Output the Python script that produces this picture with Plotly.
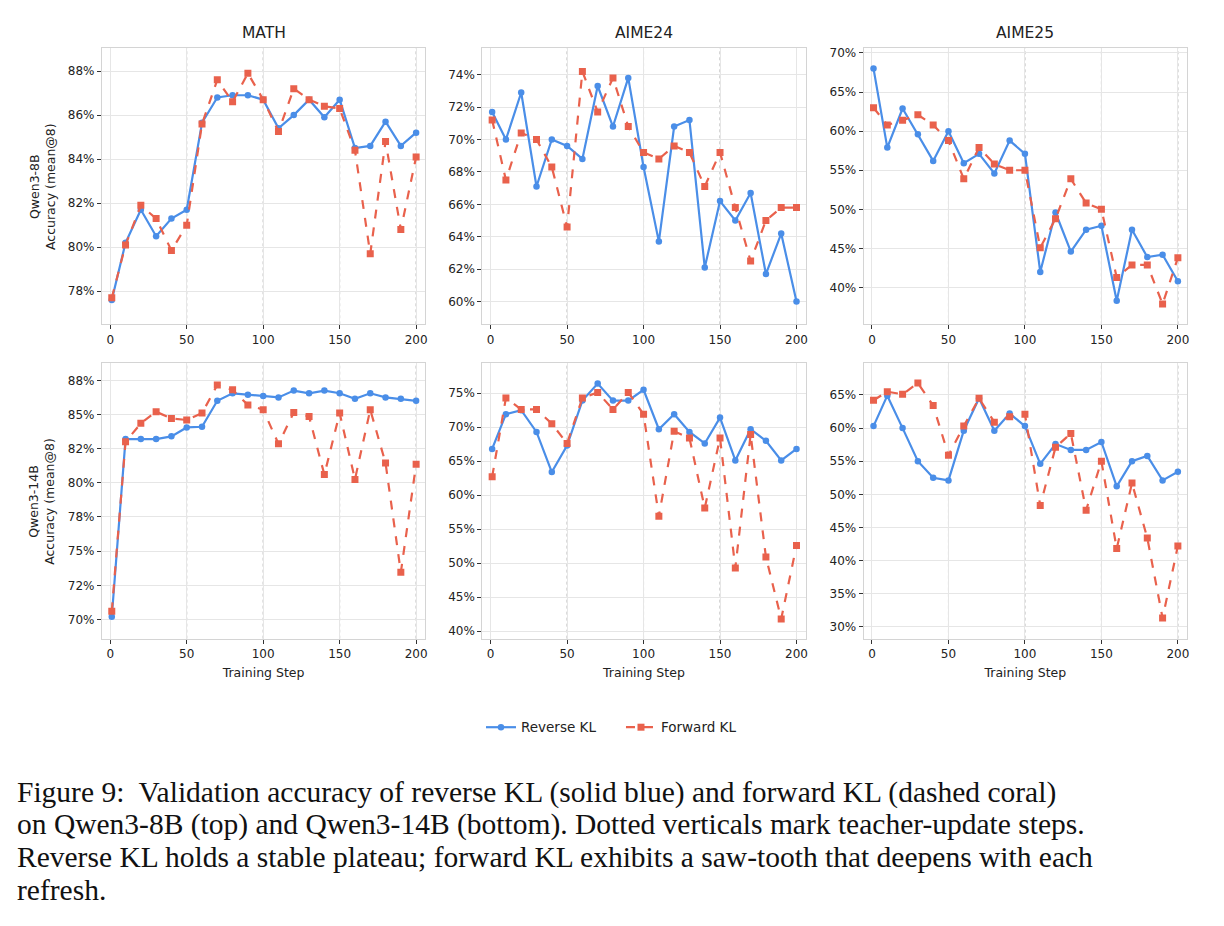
import plotly.graph_objects as go

steps = [1, 10, 20, 30, 40, 50, 60, 70, 80, 90, 100, 110, 120, 130, 140, 150, 160, 170, 180, 190, 200]
teacher_updates = [50, 100, 150, 200]

# Qwen3-8B (top row)
math8_rev = [77.6, 80.2, 81.7, 80.5, 81.3, 81.7, 85.65, 86.8, 86.9, 86.9, 86.7, 85.4, 86.0, 86.7, 85.9, 86.7, 84.5, 84.6, 85.7, 84.6, 85.2]
math8_fwd = [77.7, 80.1, 81.9, 81.3, 79.85, 81.0, 85.6, 87.6, 86.6, 87.9, 86.7, 85.25, 87.2, 86.7, 86.4, 86.3, 84.4, 79.7, 84.8, 80.8, 84.1]
aime24_8_rev = [71.7, 70.0, 72.9, 67.1, 70.0, 69.6, 68.8, 73.3, 70.8, 73.8, 68.3, 63.7, 70.8, 71.2, 62.1, 66.2, 65.0, 66.7, 61.7, 64.2, 60.0]
aime24_8_fwd = [71.2, 67.5, 70.4, 70.0, 68.3, 64.6, 74.2, 71.7, 73.8, 70.8, 69.2, 68.8, 69.6, 69.2, 67.1, 69.2, 65.8, 62.5, 65.0, 65.8, 65.8]
aime25_8_rev = [68.0, 57.9, 62.9, 59.6, 56.2, 60.0, 55.9, 57.1, 54.6, 58.8, 57.1, 42.0, 49.6, 44.6, 47.4, 47.9, 38.3, 47.4, 43.9, 44.2, 40.8]
aime25_8_fwd = [63.0, 60.8, 61.4, 62.1, 60.8, 58.8, 53.9, 57.9, 55.8, 55.0, 55.0, 45.1, 48.8, 53.9, 50.8, 50.0, 41.3, 42.9, 42.9, 37.9, 43.8]

# Qwen3-14B (bottom row)
math14_rev = [70.2, 83.2, 83.2, 83.2, 83.4, 84.05, 84.1, 86.0, 86.55, 86.45, 86.35, 86.25, 86.75, 86.55, 86.75, 86.55, 86.15, 86.55, 86.25, 86.15, 86.0]
math14_fwd = [70.6, 83.0, 84.35, 85.2, 84.7, 84.6, 85.1, 87.15, 86.8, 85.7, 85.35, 82.85, 85.15, 84.85, 80.6, 85.1, 80.25, 85.35, 81.45, 73.45, 81.35]
aime24_14_rev = [66.8, 71.9, 72.5, 69.3, 63.4, 67.3, 73.9, 76.4, 73.9, 73.9, 75.5, 69.7, 71.9, 69.3, 67.6, 71.4, 65.1, 69.7, 68.0, 65.1, 66.8]
aime24_14_fwd = [62.7, 74.3, 72.6, 72.6, 70.5, 67.6, 74.3, 75.1, 72.6, 75.1, 71.9, 56.9, 69.4, 68.4, 58.1, 68.4, 49.3, 68.9, 50.9, 41.8, 52.6]
aime25_14_rev = [60.3, 64.9, 60.0, 55.0, 52.5, 52.1, 59.6, 64.5, 59.6, 62.2, 60.3, 54.6, 57.6, 56.7, 56.7, 57.9, 51.2, 55.0, 55.8, 52.1, 53.4]
aime25_14_fwd = [64.2, 65.5, 65.1, 66.8, 63.4, 55.9, 60.3, 64.5, 60.9, 61.7, 62.1, 48.3, 57.1, 59.2, 47.6, 55.0, 41.8, 51.7, 43.4, 31.3, 42.2]

benchmarks = ["MATH", "AIME24", "AIME25"]
models = ["Qwen3-8B", "Qwen3-14B"]
series_names = ["Reverse KL", "Forward KL"]
x_ticks = [0, 50, 100, 150, 200]

panels = [
    [(math8_rev, math8_fwd), (aime24_8_rev, aime24_8_fwd), (aime25_8_rev, aime25_8_fwd)],
    [(math14_rev, math14_fwd), (aime24_14_rev, aime24_14_fwd), (aime25_14_rev, aime25_14_fwd)],
]
y_ticks = [
    [[78, 80, 82, 84, 86, 88], [60, 62, 64, 66, 68, 70, 72, 74], [40, 45, 50, 55, 60, 65, 70]],
    [[70, 72.5, 75, 77.5, 80, 82.5, 85, 87.5], [40, 45, 50, 55, 60, 65, 70, 75], [30, 35, 40, 45, 50, 55, 60, 65]],
]
y_ticklabels_14_math = ["70%", "72%", "75%", "78%", "80%", "82%", "85%", "88%"]
y_ranges = [
    [[76.5, 89.05], [58.6, 75.65], [35.3, 70.65]],
    [[68.6, 88.75], [38.9, 79.4], [28.2, 69.8]],
]

W, H = 1224, 926
col_px = [(102, 426), (483, 807), (865, 1189)]
row_px = [(46, 323), (362, 638)]

BLUE = "#4a8ee8"
RED = "#e9614c"
FONT = "DejaVu Sans"

fig = go.Figure()
layout = dict(
    width=W, height=H,
    margin=dict(l=0, r=0, t=0, b=0),
    paper_bgcolor="white", plot_bgcolor="white",
    font=dict(family=FONT, color="#222222", size=12),
    showlegend=True,
)
annotations = []
shapes = []

for r in range(2):
    for c in range(3):
        idx = r * 3 + c + 1
        xa = "x" if idx == 1 else f"x{idx}"
        ya = "y" if idx == 1 else f"y{idx}"
        rev, fwd = panels[r][c]
        fig.add_trace(go.Scatter(
            x=steps, y=rev, mode="lines+markers", name=series_names[0],
            line=dict(color=BLUE, width=2.2), marker=dict(symbol="circle", size=6.5, color=BLUE),
            xaxis=xa, yaxis=ya, showlegend=(idx == 1), legendgroup="rev",
        ))
        fig.add_trace(go.Scatter(
            x=steps, y=fwd, mode="lines+markers", name=series_names[1],
            line=dict(color=RED, width=2.2, dash="dash"), marker=dict(symbol="square", size=7, color=RED),
            xaxis=xa, yaxis=ya, showlegend=(idx == 1), legendgroup="fwd",
        ))
        x0, x1 = col_px[c]
        y0, y1 = row_px[r]
        ticktext = y_ticklabels_14_math if (r == 1 and c == 0) else [f"{v:g}%" for v in y_ticks[r][c]]
        layout["xaxis" if idx == 1 else f"xaxis{idx}"] = dict(
            domain=[x0 / W, x1 / W], anchor=ya, range=[-5.5, 206],
            tickvals=x_ticks, ticks="outside", ticklen=4, tickcolor="#333333",
            showline=True, linecolor="#d4d4d4", linewidth=1, mirror=True,
            showgrid=True, gridcolor="#e6e6e6", gridwidth=1, zeroline=False,
            tickfont=dict(size=12, family=FONT, color="#222222"),
            title=dict(text="Training Step" if r == 1 else "", font=dict(size=12.5, family=FONT), standoff=8),
        )
        layout["yaxis" if idx == 1 else f"yaxis{idx}"] = dict(
            domain=[1 - y1 / H, 1 - y0 / H], anchor=xa, range=y_ranges[r][c],
            tickvals=y_ticks[r][c], ticktext=ticktext, ticks="outside", ticklen=4, tickcolor="#333333",
            showline=True, linecolor="#d4d4d4", linewidth=1, mirror=True,
            showgrid=True, gridcolor="#e6e6e6", gridwidth=1, zeroline=False,
            tickfont=dict(size=12, family=FONT, color="#222222"),
        )
        for s in teacher_updates:
            shapes.append(dict(type="line", xref=xa, yref=f"{ya} domain", x0=s, x1=s, y0=0, y1=1,
                               line=dict(color="#a0a0a0", width=0.9, dash="dot"), layer="below"))
        if r == 0:
            annotations.append(dict(text=benchmarks[c], x=(x0 + x1) / 2 / W, y=1 - 31 / H,
                                    xref="paper", yref="paper", showarrow=False,
                                    xanchor="center", yanchor="middle",
                                    font=dict(size=15.5, family=FONT, color="#222222")))
        if c == 0:
            annotations.append(dict(text=f"{models[r]}<br>Accuracy (mean@8)", x=42 / W,
                                    y=1 - (y0 + y1) / 2 / H, xref="paper", yref="paper",
                                    showarrow=False, textangle=-90, xanchor="center", yanchor="middle",
                                    font=dict(size=12.5, family=FONT, color="#222222")))

caption_lines = [
    "Figure 9:  Validation accuracy of reverse KL (solid blue) and forward KL (dashed coral)",
    "on Qwen3-8B (top) and Qwen3-14B (bottom). Dotted verticals mark teacher-update steps.",
    "Reverse KL holds a stable plateau; forward KL exhibits a saw-tooth that deepens with each",
    "refresh.",
]
caption_y = [792, 824.5, 857, 889.5]
for line, yy in zip(caption_lines, caption_y):
    annotations.append(dict(text=line, x=15 / W, y=1 - yy / H, xref="paper", yref="paper",
                            showarrow=False, xanchor="left", yanchor="middle",
                            font=dict(size=29.5, family="Liberation Serif", color="#111111")))

layout["annotations"] = annotations
layout["shapes"] = shapes
layout["legend"] = dict(orientation="h", x=0.5 + 10 / W, y=1 - 727 / H, xanchor="center", yanchor="middle",
                        font=dict(size=13.5, family=FONT, color="#222222"), itemwidth=30,
                        entrywidth=95, entrywidthmode="pixels",
                        bgcolor="rgba(0,0,0,0)")
fig.update_layout(**layout)
fig.write_html("out.html")
